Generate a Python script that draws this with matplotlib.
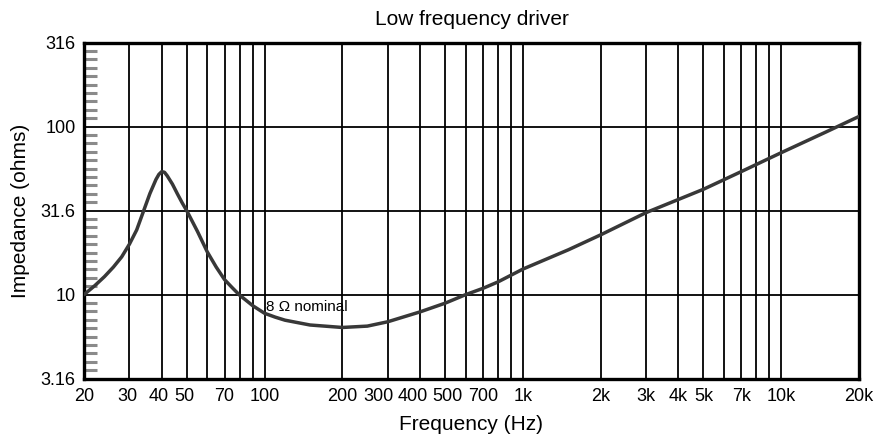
import matplotlib
matplotlib.use("Agg")
import matplotlib.pyplot as plt
import matplotlib.transforms as mtransforms
from matplotlib.ticker import FixedLocator, NullFormatter

plt.rcParams['font.family'] = ['Liberation Sans', 'DejaVu Sans']

# Data
freq_hz = [20, 22, 24, 26, 28, 30, 32, 34, 36, 38, 39, 40, 41, 42, 44, 46, 48, 50, 55,
           60, 65, 70, 75, 80, 90, 100, 110, 120, 150, 200, 250, 300, 400, 500, 600, 700,
           800, 1000, 1500, 2000, 3000, 5000, 7000, 10000, 15000, 20000]
impedance_ohm = [10.0, 11.3, 12.8, 14.6, 16.8, 20.0, 24.3, 31.4, 40.0, 48.5, 52.0, 54.0,
                 53.5, 51.0, 45.5, 39.8, 35.2, 31.6, 23.8, 18.0, 14.6, 12.3, 11.0, 9.95,
                 8.6, 7.75, 7.35, 7.05, 6.6, 6.38, 6.5, 6.9, 7.9, 8.9, 10.0, 10.9, 11.9,
                 14.2, 18.5, 22.7, 30.8, 42.4, 54.0, 70.0, 93.4, 115.0]

x_ticks = [20, 30, 40, 50, 70, 100, 200, 300, 400, 500, 700, 1000, 2000, 3000, 4000,
           5000, 7000, 10000, 20000]
x_tick_labels = ['20', '30', '40', '50', '70', '100', '200', '300', '400', '500', '700',
                 '1k', '2k', '3k', '4k', '5k', '7k', '10k', '20k']
x_grid = [m * 10 ** d for d in (1, 2, 3, 4) for m in range(1, 10) if 20 <= m * 10 ** d <= 20000]
y_ticks = [3.16, 10, 31.6, 100, 316]
y_tick_labels = ['3.16', '10', '31.6', '100', '316']
y_grid = [10, 31.6, 100]

title = 'Low frequency driver'
xlabel = 'Frequency (Hz)'
ylabel = 'Impedance (ohms)'
annotation = '8 Ω nominal'

# label nudges (pixels) to mimic the reference's hand-set label placement
label_nudge_px = {'30': -2, '40': -3, '50': -2, '300': -9, '400': -7, '500': 2}

fig = plt.figure(figsize=(8.82, 4.38), dpi=100)
ax = fig.add_axes([0.0952, 0.1353, 0.8787, 0.7672])
ax.set_xscale('log')
ax.set_yscale('log')
ax.set_xlim(20, 20000)
ax.set_ylim(3.16, 316)

for xv in x_grid:
    ax.axvline(xv, color='black', lw=1.3, zorder=1)
for yv in y_grid:
    ax.axhline(yv, color='black', lw=1.3, zorder=1)

ax.plot(freq_hz, impedance_ohm, color='#383838', lw=2.5, zorder=3,
        solid_capstyle='round', solid_joinstyle='round')

ax.text(101, 8.4, annotation, fontsize=11, ha='left', va='center', zorder=4)

ax.xaxis.set_major_locator(FixedLocator(x_ticks))
ax.set_xticklabels(x_tick_labels)
ax.xaxis.set_minor_locator(FixedLocator([]))
ax.xaxis.set_minor_formatter(NullFormatter())
ax.yaxis.set_major_locator(FixedLocator(y_ticks))
ax.set_yticklabels(y_tick_labels)
minor_y = [10 ** (k / 20) for k in range(11, 50) if k % 10 != 0]
ax.yaxis.set_minor_locator(FixedLocator(minor_y))
ax.yaxis.set_minor_formatter(NullFormatter())

ax.tick_params(axis='x', which='major', length=0, labelsize=13, pad=7)
ax.tick_params(axis='y', which='major', length=0, labelsize=13, pad=6)
ax.tick_params(axis='y', which='minor', direction='in', length=9, width=2.2, color='#8a8a8a')
ax.tick_params(axis='x', which='minor', length=0)

for lbl in ax.get_xticklabels():
    dx = label_nudge_px.get(lbl.get_text(), 0)
    if dx:
        lbl.set_transform(lbl.get_transform() +
                          mtransforms.ScaledTranslation(dx / 100, 0, fig.dpi_scale_trans))

for s in ax.spines.values():
    s.set_linewidth(2.4)
    s.set_color('black')

ax.set_title(title, fontsize=15, pad=13)
ax.set_xlabel(xlabel, fontsize=15, labelpad=7)
ax.set_ylabel(ylabel, fontsize=15, labelpad=8)

fig.savefig('out.png', dpi=100)
